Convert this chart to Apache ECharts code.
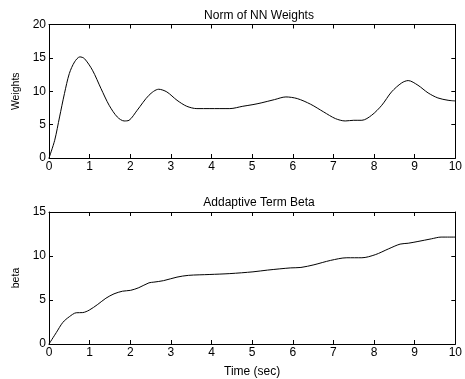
<!DOCTYPE html>
<html>
<head>
<meta charset="utf-8">
<script src="https://cdn.jsdelivr.net/npm/echarts@6/dist/echarts.min.js"></script>
<style>
  html, body { margin: 0; padding: 0; background: #fff; }
  #chart { width: 465px; height: 379px; }
</style>
</head>
<body>
<div id="chart"></div>
<script>
// top plot: norm of NN weights
var timeW = [0, 0.14, 0.26, 0.38, 0.5, 0.63, 0.76, 0.87, 1.07, 1.28, 1.48, 1.68, 1.85, 1.97, 2.17, 2.46, 2.7, 2.9, 3.15, 3.39, 3.64, 3.96, 4.45, 4.77, 5.02, 5.22, 5.55, 5.83, 6.11, 6.44, 6.76, 7.05, 7.29, 7.5, 7.7, 7.94, 8.19, 8.43, 8.68, 8.84, 9.08, 9.33, 9.57, 9.82, 10];
var weights = [0, 2.65, 6.15, 9.65, 12.65, 14.4, 15.15, 14.9, 13.15, 10.4, 7.9, 6.15, 5.55, 5.65, 7.15, 9.4, 10.3, 9.9, 8.65, 7.75, 7.4, 7.4, 7.4, 7.75, 8.0, 8.25, 8.75, 9.15, 8.9, 8.05, 6.9, 5.9, 5.55, 5.65, 5.65, 6.4, 7.9, 9.9, 11.25, 11.6, 10.9, 9.75, 9.0, 8.65, 8.55];

// bottom plot: adaptive term beta
var timeB = [0, 0.18, 0.34, 0.5, 0.67, 0.83, 0.99, 1.2, 1.4, 1.6, 1.81, 2.01, 2.21, 2.46, 2.58, 2.82, 3.15, 3.43, 3.96, 4.45, 5.02, 5.38, 5.95, 6.2, 6.52, 6.93, 7.33, 7.7, 8.03, 8.35, 8.64, 8.84, 9.08, 9.41, 9.65, 10];
var beta = [0, 1.3, 2.45, 3.1, 3.55, 3.57, 3.85, 4.5, 5.2, 5.7, 6.0, 6.1, 6.4, 6.95, 7.03, 7.2, 7.6, 7.8, 7.9, 8.0, 8.2, 8.4, 8.65, 8.7, 9.0, 9.5, 9.8, 9.8, 10.15, 10.8, 11.35, 11.45, 11.65, 11.95, 12.15, 12.15];

var xTicks = [0, 1, 2, 3, 4, 5, 6, 7, 8, 9, 10];
var yTicksW = [0, 5, 10, 15, 20];
var yTicksB = [0, 5, 10, 15];

var font = 'Liberation Sans, Arial, sans-serif';

function pairs(xs, ys) {
    return xs.map(function (x, i) { return [x, ys[i]]; });
}

function xAx(grid, pos, labels, name) {
    return {
        type: 'value', gridIndex: grid, position: pos,
        min: xTicks[0], max: xTicks[xTicks.length - 1], interval: 1,
        axisLine: { show: true, onZero: false, lineStyle: { color: '#000', width: 1 } },
        axisTick: { show: true, inside: true, length: 4, lineStyle: { color: '#000' } },
        axisLabel: { show: labels, color: '#000', fontSize: 12, fontFamily: font, margin: 3 },
        splitLine: { show: false },
        name: name || '', nameLocation: 'middle', nameGap: 22,
        nameTextStyle: { color: '#000', fontSize: 12, fontFamily: font }
    };
}

function yAx(grid, pos, ticks, labels, name) {
    return {
        type: 'value', gridIndex: grid, position: pos,
        min: ticks[0], max: ticks[ticks.length - 1], interval: 5,
        axisLine: { show: true, onZero: false, lineStyle: { color: '#000', width: 1 } },
        axisTick: { show: true, inside: true, length: 4, lineStyle: { color: '#000' } },
        axisLabel: { show: labels, color: '#000', fontSize: 12, fontFamily: font, margin: 3 },
        splitLine: { show: false },
        name: name || '', nameLocation: 'middle', nameGap: 17,
        nameTextStyle: { color: '#000', fontSize: 10.5, fontFamily: font }
    };
}

var myChart = echarts.init(document.getElementById('chart'), null, { renderer: 'canvas' });

var option = {
    animation: false,
    backgroundColor: '#fff',
    title: [
        { text: 'Norm of NN Weights', left: 254, top: 5, textAlign: 'center',
          textStyle: { color: '#000', fontSize: 12, fontWeight: 'normal', fontFamily: font } },
        { text: 'Addaptive Term Beta', left: 254, top: 192, textAlign: 'center',
          textStyle: { color: '#000', fontSize: 12, fontWeight: 'normal', fontFamily: font } }
    ],
    grid: [
        { left: 49, top: 24.5, width: 410, height: 133.5 },
        { left: 49, top: 212, width: 410, height: 133 }
    ],
    xAxis: [
        xAx(0, 'bottom', true),
        xAx(0, 'top', false),
        xAx(1, 'bottom', true, 'Time (sec)'),
        xAx(1, 'top', false)
    ],
    yAxis: [
        yAx(0, 'left', yTicksW, true, 'Weights'),
        yAx(0, 'right', yTicksW, false),
        yAx(1, 'left', yTicksB, true, 'beta'),
        yAx(1, 'right', yTicksB, false)
    ],
    series: [
        {
            type: 'line', xAxisIndex: 0, yAxisIndex: 0,
            data: pairs(timeW, weights), smooth: 0.3, showSymbol: false,
            lineStyle: { color: '#000', width: 1 }
        },
        {
            type: 'line', xAxisIndex: 2, yAxisIndex: 2,
            data: pairs(timeB, beta), smooth: 0.3, showSymbol: false,
            lineStyle: { color: '#000', width: 1 }
        }
    ]
};

myChart.setOption(option);
</script>
</body>
</html>
